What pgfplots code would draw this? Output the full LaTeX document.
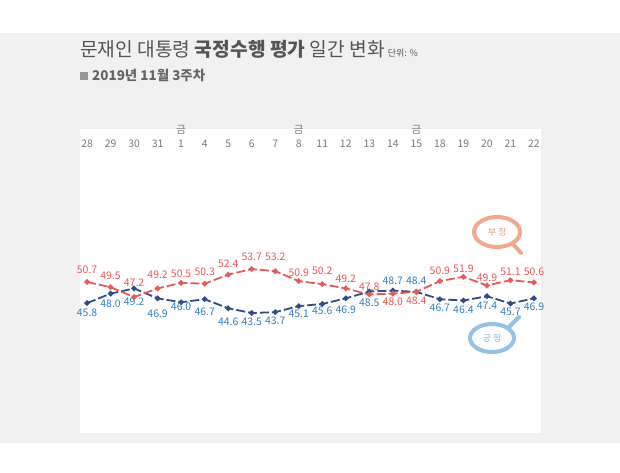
\documentclass[border=0pt]{standalone}
\usepackage{fontspec}
\setmainfont{Noto Sans CJK KR}
\usepackage{pgfplots}
\usepackage{pgfplotstable}
\pgfplotsset{compat=1.18}

\definecolor{bgGray}{HTML}{F1F1F1}
\definecolor{negRed}{HTML}{E65A5A}
\definecolor{posLine}{HTML}{2F4E87}
\definecolor{posText}{HTML}{2F80C0}
\definecolor{titleGray}{HTML}{555555}
\definecolor{tickGray}{HTML}{7A7A7A}
\definecolor{bubRed}{HTML}{F4A68E}
\definecolor{bubBlue}{HTML}{93C2E6}

% x, 부정, label offset, 긍정, label offset
\pgfplotstableread{
x  neg   noff pos   poff
0  50.7  12   45.8  -10
1  49.5  11   48.0  -10
2  47.2  14   49.2  -13
3  49.2  14   46.9  -15
4  50.5  9    46.0  -5
5  50.3  12   46.7  -13
6  52.4  11   44.6  -13
7  53.7  12   43.5  -9
8  53.2  14   43.7  -9
9  50.9  8    45.1  -8
10 50.2  13   45.6  -7
11 49.2  10   46.9  -11
12 47.8  8    48.5  -11
13 48.0  -8   48.7  10
14 48.4  -9   48.4  11
15 50.9  10   46.7  -9
16 51.9  8    46.4  -9
17 49.9  8    47.4  -10
18 51.1  8    45.7  -8
19 50.6  11   46.9  -8
}\polldata

\begin{document}
\begin{tikzpicture}
  \begin{scope}[x=1bp,y=1bp]
    \useasboundingbox (0,0) rectangle (620,473);
    \fill[white] (0,0) rectangle (620,473);
    \fill[bgGray] (0,30) rectangle (620,440);

    % title
    \node[anchor=base west, inner sep=0, text=titleGray, font=\fontsize{19.3}{22}\selectfont]
      at (80,416) {문재인 대통령 \textbf{국정수행 평가} 일간 변화\hspace{3bp}{\fontsize{9}{10}\selectfont 단위: \%}};
    \fill[gray!80] (80,393) rectangle (88,401);
    \node[anchor=base west, inner sep=0, text=titleGray!90, font=\fontsize{13.5}{15}\selectfont\bfseries]
      at (92,392.5) {2019년 11월 3주차};
  \end{scope}

  \begin{axis}[
      at={(80bp,40bp)}, anchor=south west,
      width=461bp, height=304bp, scale only axis,
      xmin=-0.3, xmax=19.3, ymin=15.66, ymax=86.2,
      axis background/.style={fill=white},
      axis line style={draw=none},
      ytick=\empty,
      xtick={0,...,19},
      xticklabels={28,29,30,31,1,4,5,6,7,8,11,12,13,14,15,18,19,20,21,22},
      xticklabel pos=upper,
      major tick length=0pt,
      xticklabel style={anchor=center, yshift=-15bp, text=tickGray,
        font=\fontsize{10.5}{12}\selectfont},
      extra x ticks={4,9,14},
      extra x tick labels={금,금,금},
      extra x tick style={xticklabel style={yshift=14bp}},
      /pgf/number format/assume math mode=true,
      clip=false,
    ]
    \addplot[posLine, line width=1.8bp, dash pattern=on 9bp off 3bp,
      mark=*, mark size=1.8bp, mark options={solid},
      point meta=explicit,
      visualization depends on={\thisrow{poff} \as \off},
      nodes near coords,
      nodes near coords style={anchor=center, yshift=\off bp, text=posText,
        font=\fontsize{10.5}{12}\selectfont,
        /pgf/number format/.cd, fixed, fixed zerofill, precision=1}]
      table[x=x, y=pos, meta=pos] {\polldata};
    \addplot[negRed, line width=1.8bp, dash pattern=on 9bp off 3bp,
      mark=*, mark size=1.8bp, mark options={solid},
      point meta=explicit,
      visualization depends on={\thisrow{noff} \as \off},
      nodes near coords,
      nodes near coords style={anchor=center, yshift=\off bp, text=negRed,
        font=\fontsize{10.5}{12}\selectfont,
        /pgf/number format/.cd, fixed, fixed zerofill, precision=1}]
      table[x=x, y=neg, meta=neg] {\polldata};
  \end{axis}

  % speech bubbles
  \begin{scope}[x=1bp,y=1bp]
    \draw[bubRed, line width=4bp, line cap=round] (513,229) -- (521,220);
    \draw[bubRed, line width=4bp, fill=white] (497,241) ellipse (23bp and 15bp);
    \node[text=bubRed!80!gray, font=\fontsize{9}{10}\selectfont] at (497,241) {부 정};
    \draw[bubBlue, line width=4bp, line cap=round] (509,146) -- (519,156);
    \draw[bubBlue, line width=4bp, fill=white] (492,135) ellipse (22bp and 14bp);
    \node[text=bubBlue!80!gray, font=\fontsize{9}{10}\selectfont] at (492,135) {긍 정};
  \end{scope}
\end{tikzpicture}
\end{document}
